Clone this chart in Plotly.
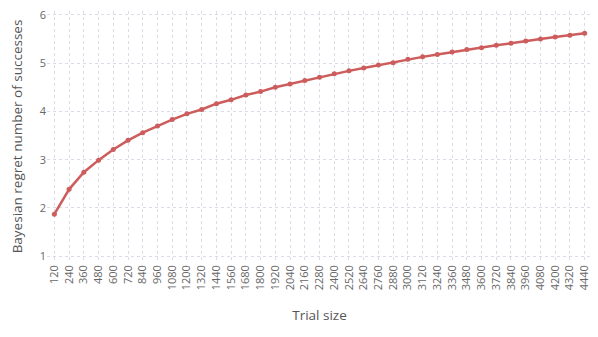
import plotly.graph_objects as go

trial_sizes = list(range(120, 4441, 120))
regret = [
    1.87, 2.385, 2.74, 2.99, 3.21, 3.40, 3.56, 3.70, 3.83, 3.95,
    4.04, 4.16, 4.24, 4.34, 4.41, 4.50, 4.57, 4.64, 4.71, 4.78,
    4.84, 4.90, 4.96, 5.01, 5.08, 5.13, 5.18, 5.23, 5.28, 5.32,
    5.37, 5.41, 5.46, 5.50, 5.54, 5.58, 5.62,
]

grid = dict(showgrid=True, gridcolor='#dcdce6', griddash='dot', gridwidth=1,
            zeroline=False, showline=False, ticks='', automargin=False,
            ticklabeloverflow='allow')

fig = go.Figure(go.Scatter(
    x=trial_sizes, y=regret, mode='lines+markers',
    line=dict(color='#cd5c5c', width=2.5),
    marker=dict(color='#cd5c5c', size=5),
))

# page body has an 8px margin, so the figure is a bit smaller than the window
fig.update_layout(
    width=590, height=329,
    paper_bgcolor='white', plot_bgcolor='white',
    margin=dict(l=39, r=6, t=3, b=75),
    font=dict(family='Open Sans', size=11, color='#666'),
    showlegend=False,
)
fig.update_xaxes(
    title=dict(text='Trial size', font=dict(size=13.5, color='#555'), standoff=21),
    range=[60, 4500], tickmode='linear', tick0=120, dtick=120,
    tickangle=-90, **grid,
)
fig.update_yaxes(
    title=dict(text='Bayesian regret number of successes', font=dict(size=13.5, color='#555'), standoff=20),
    range=[0.88, 6.08], tickmode='linear', tick0=1, dtick=1, **grid,
)

fig.write_html("out.html")
